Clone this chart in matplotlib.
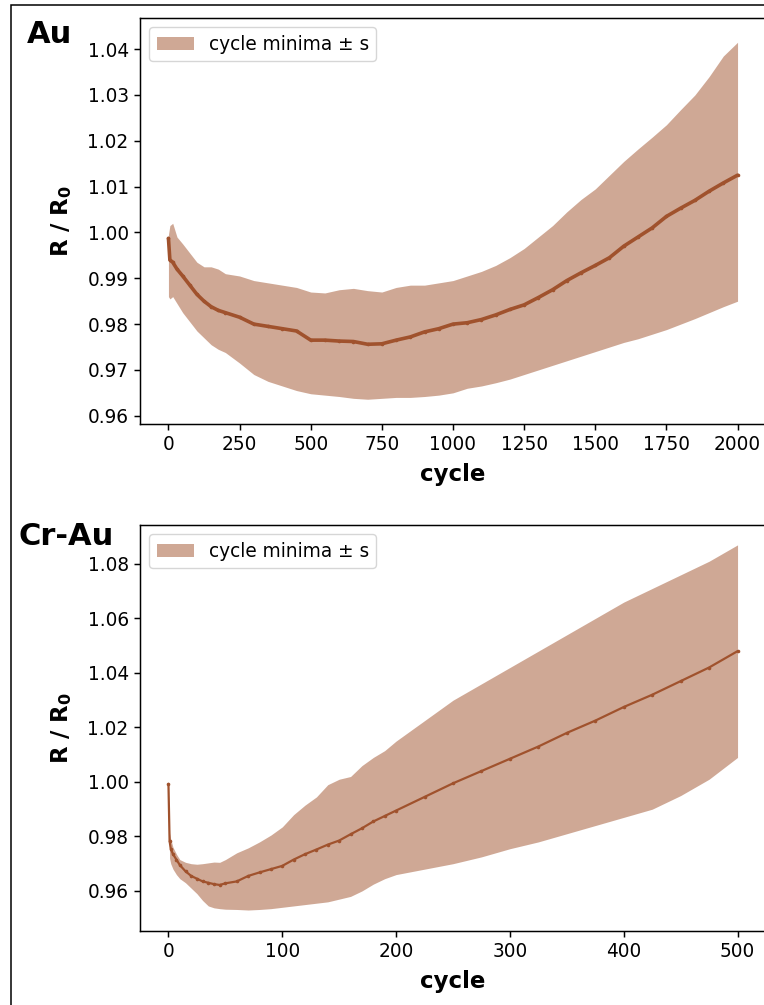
import matplotlib
matplotlib.use("Agg")
import matplotlib.pyplot as plt
from matplotlib.patches import Rectangle

# ---------------- data ----------------
au_cycle = [0, 5, 15, 30, 50, 75, 100, 125, 150, 175, 200, 250, 300, 350, 400, 450,
            500, 550, 600, 650, 700, 750, 800, 850, 900, 950, 1000, 1050, 1100, 1150,
            1200, 1250, 1300, 1350, 1400, 1450, 1500, 1550, 1600, 1650, 1700, 1750,
            1800, 1850, 1900, 1950, 2000]
au_center = [0.9987, 0.9940, 0.9935, 0.9920, 0.9905, 0.9885, 0.9865, 0.9850, 0.9838,
             0.9830, 0.9825, 0.9815, 0.9800, 0.9795, 0.9790, 0.9785, 0.9765, 0.9765,
             0.9763, 0.9762, 0.9756, 0.9757, 0.9765, 0.9772, 0.9783, 0.9790, 0.9800,
             0.9803, 0.9810, 0.9820, 0.9832, 0.9842, 0.9858, 0.9875, 0.9895, 0.9912,
             0.9928, 0.9945, 0.9970, 0.9990, 1.0010, 1.0035, 1.0053, 1.0070, 1.0090,
             1.0108, 1.0125]
au_upper = [0.9995, 1.0015, 1.0020, 0.9990, 0.9975, 0.9955, 0.9935, 0.9925, 0.9925,
            0.9920, 0.9910, 0.9905, 0.9895, 0.9890, 0.9885, 0.9880, 0.9870, 0.9868,
            0.9875, 0.9878, 0.9873, 0.9870, 0.9880, 0.9885, 0.9885, 0.9890, 0.9895,
            0.9905, 0.9915, 0.9928, 0.9945, 0.9965, 0.9990, 1.0015, 1.0045, 1.0072,
            1.0095, 1.0125, 1.0155, 1.0182, 1.0208, 1.0235, 1.0268, 1.0300, 1.0340,
            1.0385, 1.0415]
au_lower = [0.9860, 0.9855, 0.9860, 0.9845, 0.9825, 0.9805, 0.9785, 0.9770, 0.9755,
            0.9745, 0.9738, 0.9715, 0.9690, 0.9675, 0.9665, 0.9655, 0.9648, 0.9645,
            0.9642, 0.9638, 0.9636, 0.9638, 0.9640, 0.9640, 0.9642, 0.9645, 0.9650,
            0.9660, 0.9665, 0.9672, 0.9680, 0.9690, 0.9700, 0.9710, 0.9720, 0.9730,
            0.9740, 0.9750, 0.9760, 0.9768, 0.9778, 0.9788, 0.9800, 0.9812, 0.9825,
            0.9838, 0.9850]

cr_cycle = [0, 1, 2, 4, 7, 10, 15, 20, 25, 30, 35, 40, 45, 50, 60, 70, 80, 90, 100,
            110, 120, 130, 140, 150, 160, 170, 180, 190, 200, 225, 250, 275, 300, 325,
            350, 375, 400, 425, 450, 475, 500]
cr_center = [0.9993, 0.9783, 0.9755, 0.9735, 0.9715, 0.9695, 0.9672, 0.9655, 0.9645,
             0.9635, 0.9630, 0.9625, 0.9622, 0.9628, 0.9635, 0.9655, 0.9668, 0.9680,
             0.9692, 0.9715, 0.9735, 0.9752, 0.9770, 0.9785, 0.9808, 0.9830, 0.9855,
             0.9875, 0.9895, 0.9945, 0.9995, 1.0040, 1.0085, 1.0130, 1.0180, 1.0225,
             1.0275, 1.0320, 1.0370, 1.0420, 1.0480]
cr_upper = [0.9993, 0.9812, 0.9790, 0.9760, 0.9735, 0.9715, 0.9705, 0.9700, 0.9698,
            0.9700, 0.9703, 0.9706, 0.9705, 0.9715, 0.9740, 0.9758, 0.9780, 0.9805,
            0.9835, 0.9880, 0.9915, 0.9945, 0.9990, 1.0010, 1.0020, 1.0060, 1.0090,
            1.0115, 1.0150, 1.0225, 1.0300, 1.0360, 1.0420, 1.0480, 1.0540, 1.0600,
            1.0660, 1.0710, 1.0760, 1.0810, 1.0870]
cr_lower = [0.9993, 0.9720, 0.9700, 0.9680, 0.9660, 0.9645, 0.9630, 0.9610, 0.9590,
            0.9565, 0.9545, 0.9538, 0.9535, 0.9533, 0.9532, 0.9530, 0.9532, 0.9535,
            0.9540, 0.9545, 0.9550, 0.9555, 0.9560, 0.9570, 0.9580, 0.9600, 0.9625,
            0.9645, 0.9660, 0.9680, 0.9700, 0.9725, 0.9755, 0.9780, 0.9810, 0.9840,
            0.9870, 0.9900, 0.9950, 1.0010, 1.0090]

au_xticks = [0, 250, 500, 750, 1000, 1250, 1500, 1750, 2000]
au_yticks = [0.96, 0.97, 0.98, 0.99, 1.00, 1.01, 1.02, 1.03, 1.04]
cr_xticks = [0, 100, 200, 300, 400, 500]
cr_yticks = [0.96, 0.98, 1.00, 1.02, 1.04, 1.06, 1.08]

# ---------------- styling ----------------
S = 1.333
plt.rcParams.update({
    "font.family": ["DejaVu Sans"],
    "font.size": 10 * S,
    "axes.linewidth": 0.8 * S,
    "xtick.major.size": 3.5 * S,
    "ytick.major.size": 3.5 * S,
    "xtick.major.width": 0.8 * S,
    "ytick.major.width": 0.8 * S,
    "xtick.labelsize": 10 * S,
    "ytick.labelsize": 10 * S,
    "legend.fontsize": 10 * S,
})

W, H = 764, 1005
fig = plt.figure(figsize=(W / 100, H / 100), dpi=100)

fill_col = "sienna"
dot_col = "sienna"


def px_axes(x0, y0, x1, y1):
    return fig.add_axes([x0 / W, 1 - y1 / H, (x1 - x0) / W, (y1 - y0) / H])


ax1 = px_axes(140, 18, 766, 424)
ax2 = px_axes(140, 525, 766, 931)

panels = [
    (ax1, au_cycle, au_center, au_upper, au_lower, au_xticks, au_yticks,
     (-100, 2100), (0.9582, 1.0468), 2.6),
    (ax2, cr_cycle, cr_center, cr_upper, cr_lower, cr_xticks, cr_yticks,
     (-25, 525), (0.9453, 1.0943), 1.6),
]

for ax, cyc, cen, up, lo, xt, yt, xl, yl, lw in panels:
    ax.fill_between(cyc, lo, up, color=fill_col, alpha=0.5, linewidth=0,
                    label="cycle minima ± s")
    ax.plot(cyc, cen, color=dot_col, lw=lw, solid_capstyle="round")
    ax.plot(cyc, cen, "o", color=dot_col, ms=2.6, mew=0)
    ax.set_xlim(*xl)
    ax.set_ylim(*yl)
    ax.set_xticks(xt)
    ax.set_yticks(yt)
    ax.set_yticklabels([f"{v:.2f}" for v in yt])
    ax.set_xlabel("cycle", fontsize=16.5, fontweight="bold", labelpad=6)
    ax.set_ylabel(r"R / R$_\mathbf{0}$", fontsize=16.5, fontweight="bold", labelpad=10)
    ax.legend(loc="upper left")

fig.text(27 / W, 1 - 43 / H, "Au", fontsize=22, fontweight="bold", ha="left",
         va="baseline")
fig.text(18 / W, 1 - 545 / H, "Cr-Au", fontsize=22, fontweight="bold", ha="left",
         va="baseline")

# outer frame
fig.patches.append(Rectangle((11 / W, -0.05), 1.2, 1 - 5 / H + 0.05,
                             transform=fig.transFigure, fill=False,
                             edgecolor="black", linewidth=1.1, zorder=0))

fig.savefig("out.png", dpi=100)
